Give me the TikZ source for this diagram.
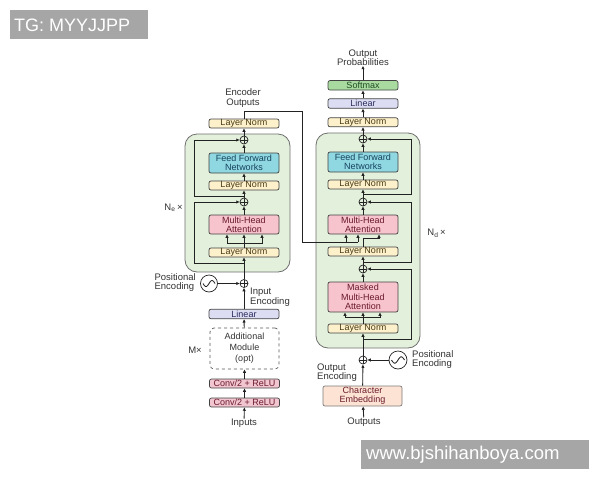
\documentclass[tikz,border=0pt]{standalone}
\usepackage{fontspec}
\setmainfont{Liberation Sans}
\usetikzlibrary{arrows.meta,calc}

\definecolor{linec}{HTML}{222222}
\definecolor{blockfill}{HTML}{E3F0DB}
\definecolor{blockline}{HTML}{6E6E6E}
\definecolor{lnfill}{HTML}{FDF1CB}
\definecolor{lntext}{HTML}{4A3A12}
\definecolor{mhafill}{HTML}{F7C3CC}
\definecolor{mhatext}{HTML}{6A1A2C}
\definecolor{ffnfill}{HTML}{8FD7E1}
\definecolor{ffntext}{HTML}{17435E}
\definecolor{linfill}{HTML}{DCDCF3}
\definecolor{lintext}{HTML}{2A2A5A}
\definecolor{softfill}{HTML}{A9DBA1}
\definecolor{softtext}{HTML}{1F4A1F}
\definecolor{convfill}{HTML}{F2C6D0}
\definecolor{embfill}{HTML}{FDE3D3}
\definecolor{labtext}{HTML}{333333}
\definecolor{wmfill}{HTML}{A6A6A6}

\newcommand\boxfont{\fontsize{9}{9.3}\selectfont}
\newcommand\labfont{\fontsize{9.5}{9.5}\selectfont}

\begin{document}
\begin{tikzpicture}[x=1pt,y=-1pt,>={Latex[length=3.4pt,width=3.4pt]},
    line/.style={draw=linec,line width=0.85pt},
    block/.style={draw=blockline,fill=blockfill,line width=0.8pt,rounded corners=12pt,inner sep=0pt},
    box/.style={draw=linec!85,line width=0.7pt,rounded corners=2pt,minimum width=70pt,inner sep=0pt,font=\boxfont,align=center},
    lnbox/.style={box,fill=lnfill,text=lntext,minimum height=9pt},
    mhabox/.style={box,fill=mhafill,text=mhatext,minimum height=19pt},
    ffnbox/.style={box,fill=ffnfill,text=ffntext,minimum height=20pt},
    linbox/.style={box,fill=linfill,text=lintext,minimum height=9.5pt},
    softbox/.style={box,fill=softfill,text=softtext,minimum height=9.5pt},
    convbox/.style={box,fill=convfill,text=mhatext,minimum height=9pt},
    addc/.style={circle,draw=linec,line width=0.7pt,minimum size=8pt,inner sep=0pt,
      path picture={\draw[line width=0.6pt] (path picture bounding box.north) -- (path picture bounding box.south)
        (path picture bounding box.west) -- (path picture bounding box.east);}},
    sinec/.style={circle,draw=linec,line width=0.7pt,inner sep=0pt},
    lab/.style={font=\labfont,text=labtext,inner sep=0pt}]
    \useasboundingbox (0,0) rectangle (600,480);
    % watermarks
    \fill[wmfill] (10,10) rectangle (148,39);
    \node[anchor=west,text=white,font=\fontsize{18}{18}\selectfont,inner sep=0pt] (wmtg) at (14,25) {TG: MYYJJPP};
    \fill[wmfill] (361,440) rectangle (589,469);
    \node[anchor=west,text=white,font=\fontsize{18.5}{18.5}\selectfont,inner sep=0pt] (wmweb) at (366,455) {www.bjshihanboya.com};

    % encoder block
    \node[block,minimum width=105pt,minimum height=138pt] (encblock) at (237.5,203) {};
    \node[lab] (ne) at (173.5,208) {N\textsubscript{e}\,×};
    \node[lnbox] (elnT) at (244,123.5) {Layer Norm};
    \node[addc] (eadd2) at (244,140) {};
    \node[ffnbox] (effn) at (244,163) {Feed Forward\\Networks};
    \node[lnbox] (eln2) at (244,185.5) {Layer Norm};
    \node[addc] (eadd1) at (244,202) {};
    \node[mhabox] (emha) at (244,224.5) {Multi-Head\\Attention};
    \node[lnbox] (eln1) at (244,252.5) {Layer Norm};
    \node[addc] (einadd) at (244,283.5) {};
    \node[sinec,minimum size=17pt] (epe) at (209,283.5) {};
    \draw[line,shift={(epe.center)},domain=-6:6,samples=40,smooth] plot (\x,{-3*sin(\x*30)});
    \node[lab,anchor=east,align=left] (epetxt) at (196,282.5) {Positional\\Encoding};
    \node[lab,anchor=west,align=left] (eintxt) at (250,297) {Input\\Encoding};
    \node[linbox] (elin) at (244,314) {Linear};
    \node[box,draw=linec!75,dashed,rounded corners=4pt,minimum width=69pt,minimum height=41pt,
      text=labtext,font=\fontsize{9}{11}\selectfont] (emod) at (244.5,348.5) {Additional\\Module\\(opt)};
    \node[lab] (mx) at (195,350) {M×};
    \node[convbox] (econv2) at (244.5,383.5) {Conv/2 + ReLU};
    \node[convbox] (econv1) at (244.5,402.5) {Conv/2 + ReLU};
    \node[lab] (inputs) at (244,423) {Inputs};
    \node[lab,align=center] (encout) at (243,98) {Encoder\\Outputs};

    % decoder block
    \node[block,minimum width=104pt,minimum height=215pt] (decblock) at (368,240.5) {};
    \node[lab] (nd) at (436.5,233) {N\textsubscript{d}\,×};
    \node[lab,align=center] (outprob) at (363,57.5) {Output\\Probabilities};
    \node[softbox] (dsoft) at (363,85.3) {Softmax};
    \node[linbox] (dlin) at (363,103.5) {Linear};
    \node[lnbox] (dlnT) at (363,122.3) {Layer Norm};
    \node[addc] (dadd3) at (363,139) {};
    \node[ffnbox] (dffn) at (363,162) {Feed Forward\\Networks};
    \node[lnbox] (dln3) at (363,184.5) {Layer Norm};
    \node[addc] (dadd2) at (363,202) {};
    \node[mhabox] (dmha) at (363,224.5) {Multi-Head\\Attention};
    \node[lnbox] (dln2) at (363,251.5) {Layer Norm};
    \node[addc] (dadd1) at (363,269) {};
    \node[mhabox,minimum height=30pt] (dmmha) at (363,297) {Masked\\Multi-Head\\Attention};
    \node[lnbox] (dln1) at (363,328.5) {Layer Norm};
    \node[addc] (doutadd) at (363,360) {};
    \node[sinec,minimum size=18pt] (dpe) at (398,360) {};
    \draw[line,shift={(dpe.center)},domain=-6.5:6.5,samples=40,smooth] plot (\x,{-3.2*sin(\x*180/6.5)});
    \node[lab,anchor=west,align=left] (dpetxt) at (412,359.5) {Positional\\Encoding};
    \node[lab,anchor=west,align=left] (douttxt) at (317,372.5) {Output\\Encoding};
    \node[box,fill=embfill,draw=linec!60,text=mhatext,minimum width=79pt,minimum height=20pt] (dchar) at (362.5,396) {Character\\Embedding};
    \node[lab] (outputs) at (364,422) {Outputs};

    % encoder connectors
    \draw[line,->] (inputs) -- (econv1);
    \draw[line,->] (econv1) -- (econv2);
    \draw[line,->] (econv2) -- (emod);
    \draw[line,->] (emod) -- (elin);
    \draw[line,->] (elin) -- (einadd);
    \draw[line,->] (epe) -- (einadd);
    \draw[line,->] (einadd) -- (eln1);
    \coordinate (eq) at (244,243);
    \draw[line] (eln1.north) -- (eq);
    \draw[line,->] ($(eq)+(-17,0)$) -- ($(eq)+(18,0)$) -- ($(emha.south)+(18,0)$);
    \draw[line,->] ($(eq)+(-17,0)$) -- ($(emha.south)+(-17,0)$);
    \draw[line,->] (eq) -- (emha.south);
    \draw[line,->] (emha) -- (eadd1);
    \coordinate (ebr1) at (244,263);
    \draw[line,->] (ebr1) -- ++(-50,0) |- (eadd1.west);
    \draw[line,->] (eadd1) -- (eln2);
    \draw[line,->] (eln2) -- (effn);
    \draw[line,->] (effn) -- (eadd2);
    \coordinate (ebr2) at (244,196.5);
    \draw[line,->] (ebr2) -- ++(-50,0) |- (eadd2.west);
    \draw[line,->] (eadd2) -- (elnT);
    % encoder outputs to decoder
    \coordinate (kv) at (358,242);
    \draw[line] (elnT.north) -- (244,111) -- (302,111) |- (kv);
    \draw[line,->] (kv) -- (kv |- dmha.south);
    \draw[line,->] ($(kv)+(-12,0)$) -- ($(dmha.south)+(-17,0)$);

    % decoder connectors
    \draw[line,->] (outputs) -- (dchar);
    \draw[line,->] (dchar) -- (doutadd);
    \draw[line,->] (dpe) -- (doutadd);
    \draw[line,->] (doutadd) -- (dln1);
    \coordinate (dq) at (363,317);
    \draw[line] (dln1.north) -- (dq);
    \draw[line,->] ($(dq)+(-18,0)$) -- ($(dq)+(17,0)$) -- ($(dmmha.south)+(17,0)$);
    \draw[line,->] ($(dq)+(-18,0)$) -- ($(dmmha.south)+(-18,0)$);
    \draw[line,->] (dq) -- (dmmha.south);
    \draw[line,->] (dmmha) -- (dadd1);
    \coordinate (dbr1) at (363,339);
    \draw[line,->] (dbr1) -- ++(48,0) |- (dadd1.east);
    \draw[line,->] (dadd1) -- (dln2);
    \draw[line,->] (dln2.north) -- (363,238) -- (379,238) -- (dmha.south -| 379,0);
    \coordinate (dbr2) at (363,262);
    \draw[line,->] (dbr2) -- ++(48,0) |- (dadd2.east);
    \draw[line,->] (dmha) -- (dadd2);
    \draw[line,->] (dadd2) -- (dln3);
    \draw[line,->] (dln3) -- (dffn);
    \draw[line,->] (dffn) -- (dadd3);
    \coordinate (dbr3) at (363,194);
    \draw[line,->] (dbr3) -- ++(48,0) |- (dadd3.east);
    \draw[line,->] (dadd3) -- (dlnT);
    \draw[line,->] (dlnT) -- (dlin);
    \draw[line,->] (dlin) -- (dsoft);
    \draw[line,->] (dsoft) -- (outprob);
\end{tikzpicture}
\end{document}
